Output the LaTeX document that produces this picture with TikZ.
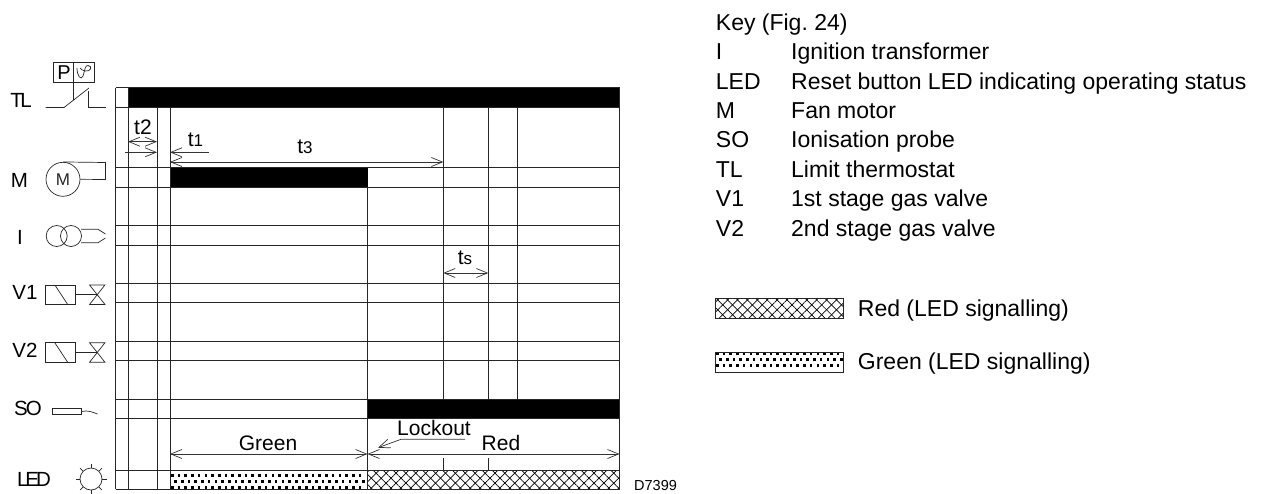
\documentclass[tikz,border=0pt]{standalone}
\usepackage{fontspec}
\setmainfont{Liberation Sans}
\usepackage{tikz}
\usetikzlibrary{arrows.meta, patterns.meta}

\tikzset{
    barb/.tip={Straight Barb[length=11pt,width=9pt]},
    grid/.style={line width=0.8pt, black!85},
    bar/.style={fill=black, draw=none},
    dim/.style={line width=0.7pt, black!80},
    symb/.style={line width=0.7pt, black!85},
    lab/.style={inner sep=0pt, font=\fontsize{20.5}{22}\selectfont},
    txt/.style={inner sep=0pt, font=\fontsize{21}{22}\selectfont},
    key/.style={inner sep=0pt, anchor=base west, font=\fontsize{23}{25}\selectfont},
    redhatch/.style={pattern={Lines[angle=45,distance=7pt,line width=0.7pt]},
        preaction={pattern={Lines[angle=-45,distance=7pt,line width=0.7pt]}}}
}

% three staggered rows of square dots: left x, first row y, dots in a row
\newcommand{\greendots}[3]{
    \foreach \r/\s in {0/0, 1/3.3, 2/0}
        \foreach \i in {1,...,#3}
            \fill ({#1+\s+(\i-1)*6.7}, {#2+\r*6.2-1.1}) rectangle ++(2.6, 2.6);
}

\begin{document}
\frenchspacing
\begin{tikzpicture}[x=1pt, y=-1pt]
    \useasboundingbox (0, 0) rectangle (1268, 493);

    % bars
    \fill[bar] (128, 87.7) rectangle (619.5, 107.7);
    \fill[bar] (170, 167.7) rectangle (367.5, 187.3);
    \fill[bar] (367.5, 399.3) rectangle (619.5, 418.5);
    \greendots{171}{475}{29}
    \path[redhatch] (367.5, 470) rectangle (619.5, 489);

    % grid
    \foreach \y in {87.7, 107.7, 167.7, 187.3, 225.7, 245, 283.7, 302.7, 341.3, 360.3, 399.3, 418.5, 470, 489}
        \draw[grid] (115.5, \y) -- (619.5, \y);
    \foreach \x in {115.5, 128, 619.5}
        \draw[grid] (\x, 87.7) -- (\x, 489);
    \foreach \x in {157, 170}
        \draw[grid] (\x, 107.7) -- (\x, 489);
    \draw[grid] (367.5, 187.3) -- (367.5, 489);
    \foreach \x in {443.3, 488.3, 517}
        \draw[grid] (\x, 107.7) -- (\x, 399.3);
    \foreach \x in {443.3, 488.3}
        \draw[grid] (\x, 458) -- (\x, 470);

    % dimension ends
    \coordinate (t2a) at (128, 141.7);
    \coordinate (t2b) at (157, 141.7);
    \coordinate (t1a) at (125, 152.3);
    \coordinate (t1b) at (157, 152.3);
    \coordinate (t1c) at (170, 152.3);
    \coordinate (t1d) at (209, 152.3);
    \coordinate (t3a) at (170, 162);
    \coordinate (t3b) at (443.3, 162);
    \coordinate (tsa) at (443.3, 273);
    \coordinate (tsb) at (488.3, 273);
    \coordinate (gra) at (170, 454);
    \coordinate (grb) at (367.5, 454);
    \coordinate (rea) at (367.5, 454);
    \coordinate (reb) at (619.5, 454);
    \coordinate (loa) at (465, 439.3);
    \coordinate (lob) at (401, 439.3);
    \coordinate (loc) at (378, 447.7);

    \draw[dim, barb-barb] (t2a) -- (t2b);
    \draw[dim, -barb] (t1a) -- (t1b);
    \draw[dim, barb-] (t1c) -- (t1d);
    \draw[dim, barb-barb] (t3a) -- (t3b);
    \draw[dim, barb-barb] (tsa) -- (tsb);
    \draw[dim, barb-barb] (gra) -- (grb);
    \draw[dim, barb-barb] (rea) -- (reb);
    \draw[dim, -barb] (loa) -- (lob) -- (loc);

    % dimension labels
    \node[txt] (t2) at (143, 127) {t2};
    \node[txt] (t1) at (195.5, 139.5) {t{\fontsize{17}{17}\selectfont 1}};
    \node[txt] (t3) at (305, 147) {t{\fontsize{17}{17}\selectfont 3}};
    \node[txt] (ts) at (465, 258) {t{\fontsize{17}{17}\selectfont s}};
    \node[txt] (green) at (268, 443) {Green};
    \node[txt] (red) at (501, 443) {Red};
    \node[txt] (lockout) at (434, 428) {Lockout};
    \node[inner sep=0pt, anchor=west, font=\fontsize{14.5}{15}\selectfont] (code) at (634, 485) {D7399};

    % left labels
    \node[lab] (TL) at (21, 100) {T\kern-2.5pt L};
    \node[lab] (M) at (19.5, 180) {M};
    \node[lab] (I) at (20, 237) {I};
    \node[lab] (V1) at (25, 292) {V1};
    \node[lab] (V2) at (25, 350) {V2};
    \node[lab] (SO) at (28, 408) {S\kern-2pt O};
    \node[lab] (LED) at (34, 479) {L\kern-3pt E\kern-3pt D};

    % TL symbol
    \draw[symb] (53.7, 62.7) rectangle (94, 82.3);
    \draw[symb] (73.5, 62.7) -- (73.5, 100);
    \node[inner sep=0pt, font=\fontsize{20}{20}\selectfont] (P) at (64, 72.5) {P};
    \draw[symb] (77, 68) .. controls (77, 76) and (81, 81) .. (83, 76) .. controls (85, 70) and (85, 65) .. (88, 65.5) .. controls (93, 66) and (91, 72) .. (85, 71) .. controls (82, 70.5) and (81, 69) .. (80, 68);
    \draw[symb] (45.5, 107.5) -- (64, 107.5) -- (89, 88);
    \draw[symb] (88.5, 91) -- (88.5, 107.5) -- (105.5, 107.5);

    % M symbol
    \node[draw, symb, circle, minimum size=34pt, inner sep=0pt, font=\fontsize{17}{17}\selectfont] (fan) at (63, 179.3) {M};
    \draw[symb] (fan.north) -- (105.5, 162.5) -- (105.5, 179.5) -- (fan.east);

    % I symbol
    \node[draw, symb, circle, minimum size=21pt, inner sep=0pt] (coilA) at (56.7, 236) {};
    \node[draw, symb, circle, minimum size=21pt, inner sep=0pt] (coilB) at (71, 236) {};
    \draw[symb] (81, 229.3) -- (98, 229.3) -- (105.5, 234);
    \draw[symb] (81, 242.7) -- (98, 242.7) -- (105.5, 238);

    % valve symbols
    \foreach \n/\y in {1/294.7, 2/352.5} {
        \draw[symb] (45.5, \y-9.8) rectangle (75.5, \y+9.8);
        \draw[symb] (55, \y-9.5) -- (67.5, \y+9.5);
        \draw[symb] (75.5, \y) -- (97, \y);
        \draw[symb] (89.5, \y-9.8) -- (105, \y-9.8) -- (89.5, \y+9.8) -- (105, \y+9.8) -- cycle;
    }

    % SO symbol
    \draw[symb] (52.5, 408.3) rectangle (81.5, 414.7);
    \draw[symb] (81.5, 411.5) .. controls (88, 410) and (92, 412) .. (97.5, 414);

    % LED symbol
    \node[draw, symb, circle, minimum size=22pt, inner sep=0pt] (lamp) at (91, 479) {};
    \foreach \a in {0, 45, ..., 315}
        \draw[symb] (lamp.center) ++(\a:11) -- ++(\a:4.5);

    % key
    \node[key] (keyhead) at (715.7, 30.5) {Key (Fig. 24)};
    \foreach \n/\a/\b/\y in {a/I/Ignition transformer/59.5, b/LED/Reset button LED indicating operating status/89, c/M/Fan motor/118.5, d/SO/Ionisation probe/147.5, e/TL/Limit thermostat/177, f/V1/1st stage gas valve/206.5, g/V2/2nd stage gas valve/236} {
        \node[key] (k\n) at (715.7, \y) {\a};
        \node[key] (v\n) at (791, \y) {\b};
    }

    % legend
    \path[redhatch] (715, 298.5) rectangle (843.5, 318.3);
    \draw[grid] (715, 298.5) rectangle (843.5, 318.3);
    \greendots{716}{353}{19}
    \draw[grid] (715, 352) rectangle (843.5, 372);
    \node[key] (legred) at (857.7, 316) {Red (LED signalling)};
    \node[key] (leggreen) at (857.7, 369) {Green (LED signalling)};
\end{tikzpicture}
\end{document}
